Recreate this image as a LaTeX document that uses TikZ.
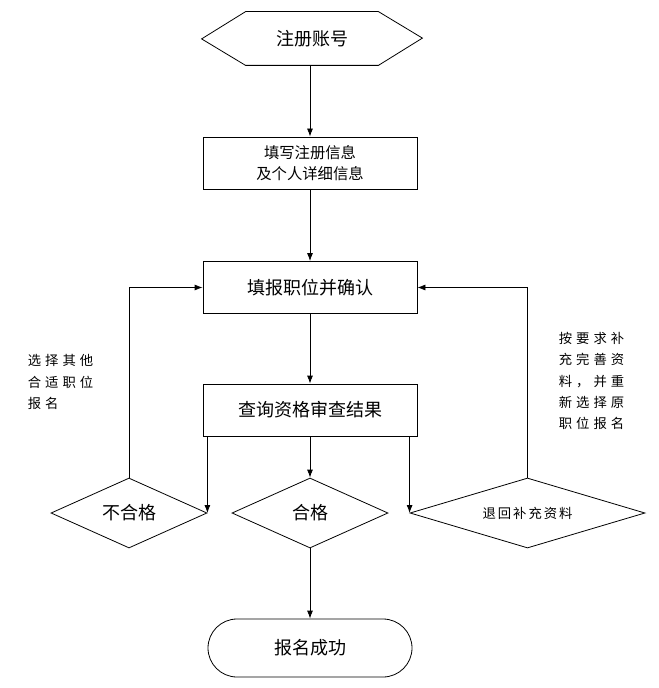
\documentclass[tikz,border=0pt]{standalone}
\usepackage{fontspec}
\usepackage{tikz}
\usetikzlibrary{arrows.meta,shapes.geometric}
\newfontfamily\cjk{Noto Sans CJK SC}
\newfontfamily\cjkwide[LetterSpace=30]{Noto Sans CJK SC}
\newfontfamily\cjkmid[LetterSpace=15]{Noto Sans CJK SC}

\begin{document}
\begin{tikzpicture}[x=0.75pt, y=-0.75pt, line width=0.6pt,
    every node/.style={font=\cjk\fontsize{13.5}{16}\selectfont},
    box/.style={draw, rectangle, minimum width=160.5pt, minimum height=39pt, align=center},
    check/.style={draw, diamond, aspect=2.2, minimum height=52.5pt, inner sep=0pt},
    note/.style={font=\cjkwide\fontsize{10}{16}\selectfont, align=left, anchor=west},
    arr/.style={-{Latex[length=6pt,width=4.5pt]}}]
    \useasboundingbox (0,0) rectangle (659,688);

    % start
    \node (reg) at (312,38.5) [minimum width=99pt, minimum height=39.75pt] {注册账号};
    \draw (reg.north west) -- (reg.north east) -- ++(44,26.5) -- (reg.south east)
        -- (reg.south west) -- ++(-44,-26.5) -- cycle;

    % steps
    \node[box, font=\cjk\fontsize{11.5}{15.75}\selectfont] (info) at (310,163) {填写注册信息\\及个人详细信息};
    \node[box] (pick) at (310,287.5) {填报职位并确认};
    \node[box] (query) at (310,410) {查询资格审查结果};

    % results
    \node[check, minimum width=117pt] (fail) at (129,513) {不合格};
    \node[check, minimum width=117pt] (pass) at (310,513) {合格};
    \node[check, aspect=3.35, minimum width=176.25pt, font=\cjkmid\fontsize{10}{12}\selectfont] (back) at (527.5,513) {退回补充资料};

    % end
    \node[draw, rectangle, rounded corners=21.75pt, minimum width=153pt, minimum height=43.5pt] (done) at (310,648) {报名成功};

    % notes
    \node[note] (redo) at (23,382) {选择其他\\合适职位\\报名};
    \node[note] (fix) at (554,381) {按要求补\\充完善资\\料，并重\\新选择原\\职位报名};

    % connections
    \draw[arr] (reg.south -| info.north) -- (info.north);
    \draw[arr] (info) -- (pick);
    \draw[arr] (pick) -- (query);
    \draw[arr] (query) -- (pass);
    \draw[arr] (fail.east |- query.south) -- (fail.east);
    \draw[arr] (back.west |- query.south) -- (back.west);
    \draw[arr] (pass) -- (done);
    \draw[arr] (fail.north) |- (pick.west);
    \draw[arr] (back.north) |- (pick.east);
\end{tikzpicture}
\end{document}
